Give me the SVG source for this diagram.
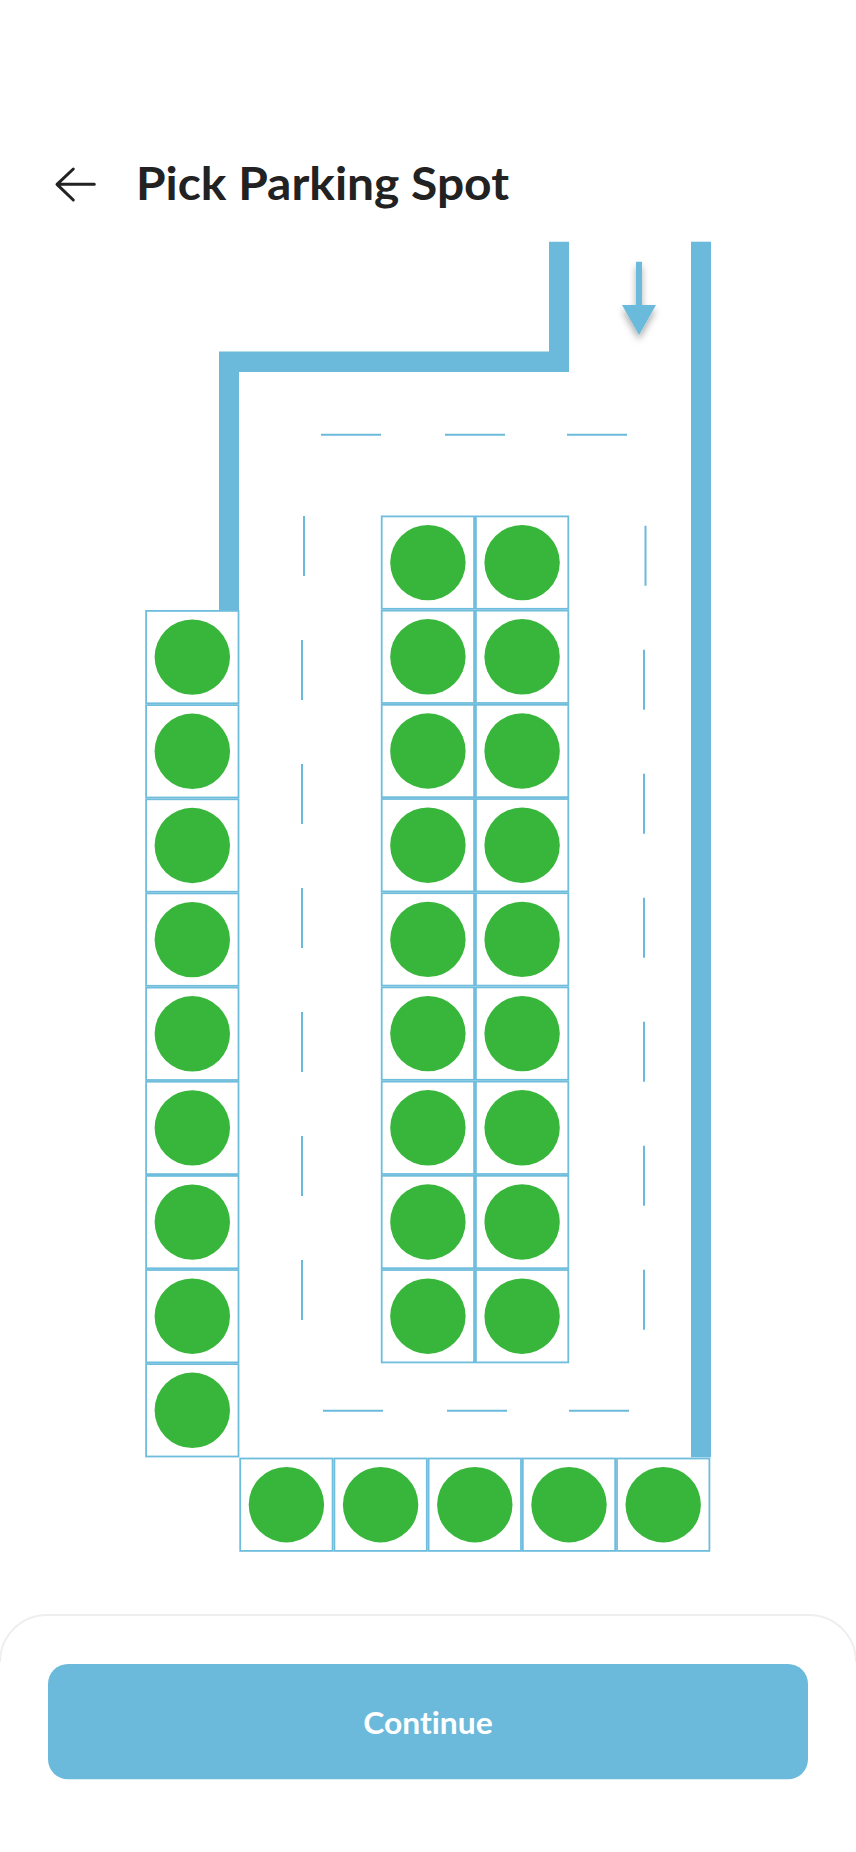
<svg xmlns="http://www.w3.org/2000/svg" width="856" height="1852" viewBox="0 0 856 1852">
<style>
.wall{fill:#6bbadb}
.dash{stroke:#6bbadb;stroke-width:2;fill:none}
.box{fill:#fff;stroke:#6fbddc;stroke-width:1.8}
.dot{fill:#38b63c}
.t{font-family:"Lato","Liberation Sans",sans-serif;font-variant-ligatures:none}
</style>
<defs>
<filter id="sh" x="-100%" y="-30%" width="300%" height="170%"><feDropShadow dx="0" dy="5" stdDeviation="3.5" flood-color="#000" flood-opacity="0.32"/></filter>
<g id="c"><rect class="box" x="0.9" y="0.9" width="92.4" height="92.4"/><circle class="dot" cx="47.1" cy="47.1" r="37.7"/></g>
</defs>
<rect width="856" height="1852" fill="#fff"/>
<g id="header">
<path d="M94.3 184.3H57.5M73.3 169L57 184.3L73.3 200" fill="none" stroke="#222" stroke-width="3" stroke-linecap="round" stroke-linejoin="round"/>
<text class="t" x="136" y="200" font-size="46" font-weight="700" fill="#222" textLength="373" lengthAdjust="spacingAndGlyphs">Pick Parking Spot</text>
</g>
<g id="connectors">
<path class="wall" d="M549 241.7H569V372H239V610H219V351.4H549Z"/>
<rect class="wall" x="691" y="241.7" width="20" height="1215.6"/>
<g id="direction-arrow" filter="url(#sh)"><path class="wall" d="M636 261.7H642V305H656L639 335L622 305H636Z"/></g>
<g id="lane-dashes">
<path class="dash" d="M321 434.7h60M445 434.7h60M567 434.7h60M323 1410.7h60M447 1410.7h60M569 1410.7h60"/>
<path class="dash" d="M304 516v60M302 640v60M302 764v60M302 888v60M302 1012v60M302 1136v60M302 1260v60"/>
<path class="dash" d="M645.5 525.7v60M644 649.7v60M644 773.7v60M644 897.7v60M644 1021.7v60M644 1145.7v60M644 1269.7v60"/>
</g>
</g>
<g id="spots-left">
<use id="l1" href="#c" x="145.2" y="610"/>
<use id="l2" href="#c" x="145.2" y="704.2"/>
<use id="l3" href="#c" x="145.2" y="798.4"/>
<use id="l4" href="#c" x="145.2" y="892.5"/>
<use id="l5" href="#c" x="145.2" y="986.7"/>
<use id="l6" href="#c" x="145.2" y="1080.8"/>
<use id="l7" href="#c" x="145.2" y="1175"/>
<use id="l8" href="#c" x="145.2" y="1269.1"/>
<use id="l9" href="#c" x="145.2" y="1363.2"/>
</g>
<g id="spots-centre">
<use id="a1" href="#c" x="380.8" y="515.5"/><use id="b1" href="#c" x="475" y="515.5"/>
<use id="a2" href="#c" x="380.8" y="609.7"/><use id="b2" href="#c" x="475" y="609.7"/>
<use id="a3" href="#c" x="380.8" y="703.9"/><use id="b3" href="#c" x="475" y="703.9"/>
<use id="a4" href="#c" x="380.8" y="798.1"/><use id="b4" href="#c" x="475" y="798.1"/>
<use id="a5" href="#c" x="380.8" y="892.3"/><use id="b5" href="#c" x="475" y="892.3"/>
<use id="a6" href="#c" x="380.8" y="986.5"/><use id="b6" href="#c" x="475" y="986.5"/>
<use id="a7" href="#c" x="380.8" y="1080.7"/><use id="b7" href="#c" x="475" y="1080.7"/>
<use id="a8" href="#c" x="380.8" y="1174.9"/><use id="b8" href="#c" x="475" y="1174.9"/>
<use id="a9" href="#c" x="380.8" y="1269.1"/><use id="b9" href="#c" x="475" y="1269.1"/>
</g>
<g id="spots-bottom">
<use id="r1" href="#c" x="239.3" y="1457.6"/>
<use id="r2" href="#c" x="333.5" y="1457.6"/>
<use id="r3" href="#c" x="427.7" y="1457.6"/>
<use id="r4" href="#c" x="521.9" y="1457.6"/>
<use id="r5" href="#c" x="616.1" y="1457.6"/>
</g>
<g id="footer">
<path d="M0 1662A47 47 0 0 1 47 1615H809A47 47 0 0 1 856 1662" fill="none" stroke="#eeeeee" stroke-width="2"/>
<rect x="48" y="1664" width="760" height="115.3" rx="20" fill="#6bbadb"/>
<text class="t" x="428" y="1733.8" font-size="30" font-weight="700" fill="#fff" text-anchor="middle" textLength="129.5" lengthAdjust="spacingAndGlyphs">Continue</text>
</g>
</svg>
